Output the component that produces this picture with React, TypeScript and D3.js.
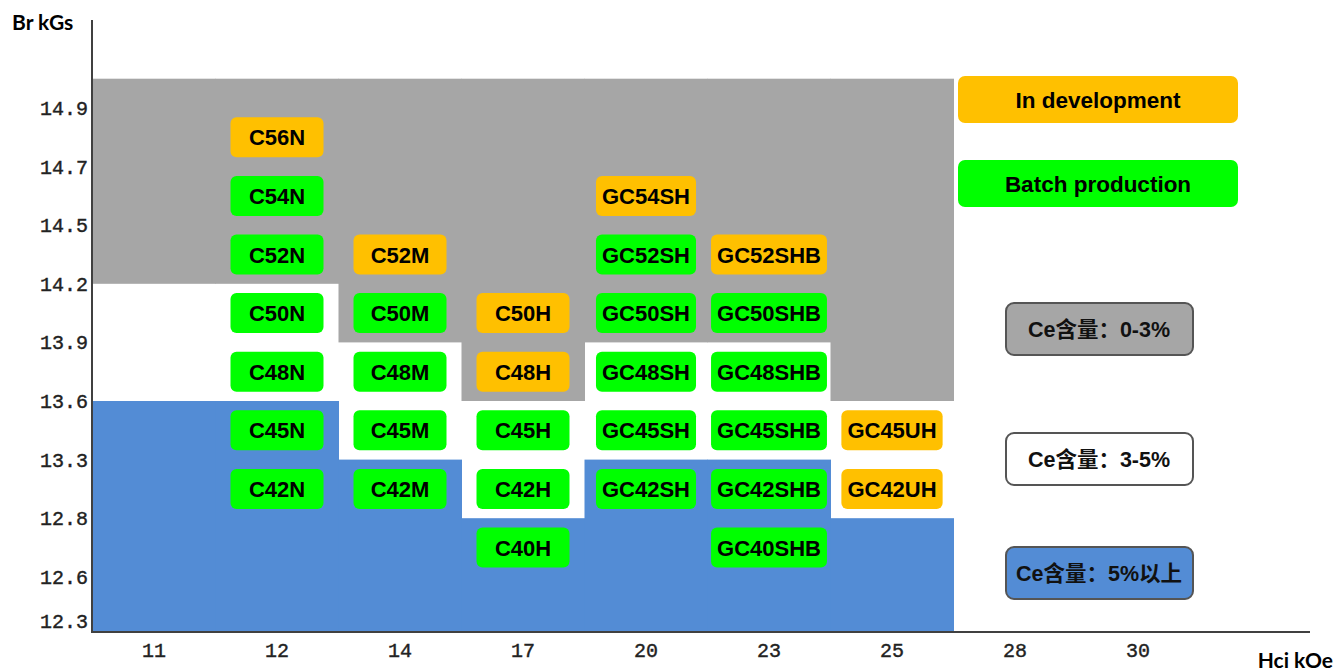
import { useEffect, useRef } from 'react';
import * as d3 from 'd3';

// Hci columns (x) and Br levels (y)
const xCategories = ['11', '12', '14', '17', '20', '23', '25', '28', '30'];
const yTicks = ['14.9', '14.7', '14.5', '14.2', '13.9', '13.6', '13.3', '12.8', '12.6', '12.3'];

// Ce content zones per column: grey above grayBottom, blue below blueTop, white between
const zoneColumns = ['11', '12', '14', '17', '20', '23', '25'];
const grayBottom = ['14.2', '14.2', '13.9', '13.6', '13.9', '13.9', '13.6'];
const blueTop = ['13.6', '13.6', '13.3', '12.8', '13.3', '13.3', '12.8'];

// grade rows sit between the Br ticks
const gradeRows = ['56', '54', '52', '50', '48', '45', '42', '40'];

const productNames = [
  'C56N', 'C54N', 'C52N', 'C50N', 'C48N', 'C45N', 'C42N',
  'C52M', 'C50M', 'C48M', 'C45M', 'C42M',
  'C50H', 'C48H', 'C45H', 'C42H', 'C40H',
  'GC54SH', 'GC52SH', 'GC50SH', 'GC48SH', 'GC45SH', 'GC42SH',
  'GC52SHB', 'GC50SHB', 'GC48SHB', 'GC45SHB', 'GC42SHB', 'GC40SHB',
  'GC45UH', 'GC42UH',
];
const productColumns = [
  '12', '12', '12', '12', '12', '12', '12',
  '14', '14', '14', '14', '14',
  '17', '17', '17', '17', '17',
  '20', '20', '20', '20', '20', '20',
  '23', '23', '23', '23', '23', '23',
  '25', '25',
];
const productStatus = [
  'dev', 'batch', 'batch', 'batch', 'batch', 'batch', 'batch',
  'dev', 'batch', 'batch', 'batch', 'batch',
  'dev', 'dev', 'batch', 'batch', 'batch',
  'dev', 'batch', 'batch', 'batch', 'batch', 'batch',
  'dev', 'batch', 'batch', 'batch', 'batch', 'batch',
  'dev', 'dev',
];

const statusLabels = ['In development', 'Batch production'];
const statusKeys = ['dev', 'batch'];
const ceLabels = ['Ce含量：0-3%', 'Ce含量：3-5%', 'Ce含量：5%以上'];

const DEV = '#FFC000';
const BATCH = '#00FF00';
const GRAY = '#A6A6A6';
const BLUE = '#538CD5';

export default function App() {
  const svgRef = useRef<SVGSVGElement>(null);

  useEffect(() => {
    if (!svgRef.current) return;
    const svg = d3.select(svgRef.current);
    svg.selectAll('*').remove();

    const width = 1335;
    const height = 672;
    const axisLeft = 92;
    const axisBottom = 632;

    const x = d3.scalePoint<string>().domain(xCategories).range([154, 1138]);
    const step = x.step();

    // y in "row index" units, one row per Br tick
    const y = d3.scaleLinear().domain([0, 8]).range([108, 576.8]);
    const tickIndex = (i: number) => (i < 9 ? i : 8.75);
    const levelY = (lvl: string) => y(yTicks.indexOf(lvl));
    const zoneTop = y(-0.5);

    svg.attr('width', width).attr('height', height);

    // zones
    const zones = svg.append('g');
    zoneColumns.forEach((c, i) => {
      const x0 = x(c)! - step / 2;
      const gb = levelY(grayBottom[i]);
      const bt = levelY(blueTop[i]);
      zones.append('rect').attr('x', x0).attr('y', zoneTop).attr('width', step + 0.5)
        .attr('height', gb - zoneTop).attr('fill', GRAY);
      zones.append('rect').attr('x', x0).attr('y', bt).attr('width', step + 0.5)
        .attr('height', axisBottom - bt).attr('fill', BLUE);
    });

    // products
    const boxFont = '"Liberation Sans", Arial, sans-serif';
    const products = svg.append('g');
    productNames.forEach((name, i) => {
      const grade = name.match(/\d+/)![0];
      const cy = y(gradeRows.indexOf(grade) + 0.5);
      const cx = x(productColumns[i])!;
      const g = products.append('g');
      const rect = g.append('rect').attr('rx', 6).attr('ry', 6)
        .attr('fill', productStatus[i] === 'dev' ? DEV : BATCH);
      const t = g.append('text').attr('x', cx).attr('y', cy + 8)
        .attr('text-anchor', 'middle').attr('font-family', boxFont)
        .attr('font-weight', 'bold').attr('font-size', 22).attr('fill', '#000')
        .text(name);
      const tw = (t.node() as SVGTextElement).getComputedTextLength();
      const w = Math.max(93, tw + 12);
      rect.attr('x', cx - w / 2).attr('y', cy - 20).attr('width', w).attr('height', 40);
    });

    // axes
    const tickFont = '"Liberation Mono", "DejaVu Sans Mono", monospace';
    svg.append('line').attr('x1', axisLeft).attr('x2', axisLeft).attr('y1', 20).attr('y2', axisBottom)
      .attr('stroke', '#404040').attr('stroke-width', 2);
    svg.append('line').attr('x1', axisLeft - 1).attr('x2', 1310).attr('y1', axisBottom).attr('y2', axisBottom)
      .attr('stroke', '#404040').attr('stroke-width', 2);

    svg.append('g').selectAll('text').data(yTicks).enter().append('text')
      .attr('x', 88).attr('y', (d, i) => y(tickIndex(i)) + 7)
      .attr('text-anchor', 'end').attr('font-family', tickFont).attr('font-size', 20)
      .attr('fill', '#222').attr('stroke', '#222').attr('stroke-width', 0.4).text((d) => d);

    svg.append('g').selectAll('text').data(xCategories).enter().append('text')
      .attr('x', (d) => x(d)!).attr('y', 657)
      .attr('text-anchor', 'middle').attr('font-family', tickFont).attr('font-size', 20)
      .attr('fill', '#222').attr('stroke', '#222').attr('stroke-width', 0.4).text((d) => d);

    const titleFont = 'Lato, "Open Sans", sans-serif';
    svg.append('text').attr('x', 12).attr('y', 30).attr('font-family', titleFont)
      .attr('font-weight', 'bold').attr('font-size', 21).attr('fill', '#000').text('Br kGs');
    svg.append('text').attr('x', 1333).attr('y', 668).attr('text-anchor', 'end')
      .attr('font-family', titleFont).attr('font-weight', 'bold').attr('font-size', 21)
      .attr('fill', '#000').text('Hci kOe');

    // status legend
    const legend = svg.append('g');
    statusLabels.forEach((label, i) => {
      const top = 76 + i * 84;
      legend.append('rect').attr('x', 958).attr('y', top).attr('width', 280).attr('height', 47)
        .attr('rx', 7).attr('fill', statusKeys[i] === 'dev' ? DEV : BATCH);
      legend.append('text').attr('x', 1098).attr('y', top + 32).attr('text-anchor', 'middle')
        .attr('font-family', boxFont).attr('font-weight', 'bold').attr('font-size', 22.5)
        .attr('fill', '#000').text(label);
    });

    // Ce content legend
    const ceFills = [GRAY, '#FFFFFF', BLUE];
    const ceCenters = [329, 459, 573];
    ceLabels.forEach((label, i) => {
      const cy = ceCenters[i];
      legend.append('rect').attr('x', 1006).attr('y', cy - 26).attr('width', 187).attr('height', 52)
        .attr('rx', 8).attr('fill', ceFills[i]).attr('stroke', '#555').attr('stroke-width', 2);
      legend.append('text').attr('x', 1099).attr('y', cy + 8).attr('text-anchor', 'middle')
        .attr('font-family', '"Liberation Sans", "Noto Sans CJK SC", sans-serif')
        .attr('font-weight', 'bold').attr('font-size', 21.5).attr('fill', '#111').text(label);
    });
  }, []);

  return (
    <svg
      ref={svgRef}
      style={{ position: 'absolute', top: 0, left: 0, background: '#fff', display: 'block' }}
    ></svg>
  );
}
